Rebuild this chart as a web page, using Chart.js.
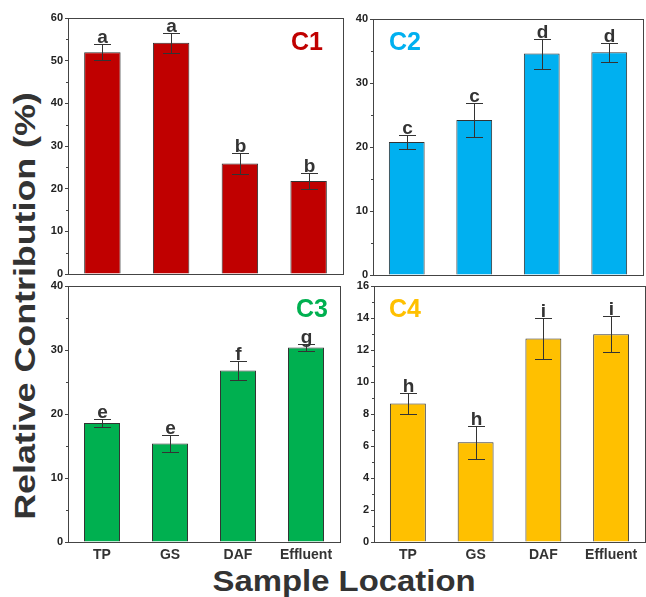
<!DOCTYPE html>
<html>
<head>
<meta charset="utf-8">
<script src="https://cdn.jsdelivr.net/npm/chart.js@4.4.1/dist/chart.umd.min.js"></script>
<style>
  body { margin: 0; background: #fff; }
  #page { position: relative; width: 646px; height: 597px; overflow: hidden; background: #fff; font-family: 'Liberation Sans', Arial, sans-serif; }
  .panel { position: absolute; }
  .axis-title { position: absolute; font-weight: bold; font-size: 30px; color: #333; white-space: nowrap; }
</style>
</head>
<body>
<div id="page">
  <div class="axis-title" id="ytitle">Relative Contribution (%)</div>
  <div class="axis-title" id="xtitle">Sample Location</div>
</div>
<script>
// data
const categories = ['TP', 'GS', 'DAF', 'Effluent'];

const c1Values = [52.0, 54.2, 25.9, 21.8];
const c1Errors = [1.9, 2.3, 2.4, 1.8];
const c1Letters = ['a', 'a', 'b', 'b'];

const c2Values = [20.8, 24.2, 34.6, 34.8];
const c2Errors = [1.1, 2.7, 2.35, 1.5];
const c2Letters = ['c', 'c', 'd', 'd'];

const c3Values = [18.6, 15.4, 26.8, 30.4];
const c3Errors = [0.65, 1.3, 1.5, 0.5];
const c3Letters = ['e', 'e', 'f', 'g'];

const c4Values = [8.66, 6.24, 12.72, 12.99];
const c4Errors = [0.65, 1.04, 1.27, 1.12];
const c4Letters = ['h', 'h', 'i', 'i'];

const FONT = "'Liberation Sans', Arial, sans-serif";
Chart.defaults.font.family = FONT;
Chart.defaults.font.weight = 'bold';

// frame, minor ticks, error bars, letters and panel name
const panelDecor = {
  id: 'panelDecor',
  afterDatasetsDraw(chart, args, opts) {
    const ctx = chart.ctx;
    const y = chart.scales.y;
    const bars = chart.getDatasetMeta(0).data;
    const values = chart.data.datasets[0].data;
    ctx.save();
    ctx.strokeStyle = '#333';
    ctx.lineWidth = 1;
    bars.forEach((bar, i) => {
      const hi = Math.round(y.getPixelForValue(values[i] + opts.errors[i])) + 0.5;
      const lo = Math.round(y.getPixelForValue(values[i] - opts.errors[i])) + 0.5;
      const x = Math.round(bar.x) + 0.5;
      ctx.beginPath();
      ctx.moveTo(x, hi); ctx.lineTo(x, lo);
      ctx.moveTo(x - 8.5, hi); ctx.lineTo(x + 8.5, hi);
      ctx.moveTo(x - 8.5, lo); ctx.lineTo(x + 8.5, lo);
      ctx.stroke();
      ctx.fillStyle = '#333';
      ctx.font = 'bold 19px ' + FONT;
      ctx.textAlign = 'center';
      ctx.textBaseline = 'alphabetic';
      ctx.fillText(opts.letters[i], x, hi - 2);
    });
    ctx.restore();
  },
  afterDraw(chart, args, opts) {
    const ctx = chart.ctx;
    const a = chart.chartArea;
    const y = chart.scales.y;
    ctx.save();
    ctx.strokeStyle = '#444';
    ctx.lineWidth = 1;
    ctx.strokeRect(Math.round(a.left) + 0.5, Math.round(a.top) + 0.5,
      Math.round(a.right - a.left), Math.round(a.bottom - a.top));
    // minor ticks halfway between the major ones
    const ticks = y.ticks;
    ctx.beginPath();
    for (let i = 0; i < ticks.length - 1; i++) {
      const py = Math.round(y.getPixelForValue((ticks[i].value + ticks[i + 1].value) / 2)) + 0.5;
      ctx.moveTo(a.left - 2, py);
      ctx.lineTo(a.left, py);
    }
    ctx.stroke();
    // panel name
    ctx.fillStyle = opts.color;
    ctx.font = 'bold 25px ' + FONT;
    ctx.textBaseline = 'alphabetic';
    if (opts.align === 'right') {
      ctx.textAlign = 'right';
      ctx.fillText(opts.name, a.right + opts.dx, a.top + opts.dy);
    } else {
      ctx.textAlign = 'left';
      ctx.fillText(opts.name, a.left + opts.dx, a.top + opts.dy);
    }
    ctx.restore();
  }
};

function makePanel(rect, values, errors, letters, color, yMax, step, showX, label) {
  const yW = 40, padT = 8, padR = 3;
  const xH = showX ? 24 : 8;
  const div = document.createElement('div');
  div.className = 'panel';
  div.style.left = (rect.l - yW) + 'px';
  div.style.top = (rect.t - padT) + 'px';
  div.style.width = (rect.r - rect.l + yW + padR) + 'px';
  div.style.height = (rect.b - rect.t + padT + xH) + 'px';
  const canvas = document.createElement('canvas');
  div.appendChild(canvas);
  document.getElementById('page').appendChild(div);

  return new Chart(canvas, {
    type: 'bar',
    data: {
      labels: categories,
      datasets: [{
        data: values,
        backgroundColor: color,
        borderColor: '#333',
        borderWidth: 1,
        barPercentage: 0.53,
        categoryPercentage: 1
      }]
    },
    options: {
      responsive: true,
      maintainAspectRatio: false,
      animation: false,
      layout: { padding: { top: padT, right: padR, left: 0, bottom: 0 } },
      plugins: {
        legend: { display: false },
        tooltip: { enabled: false },
        panelDecor: Object.assign({ errors: errors, letters: letters }, label)
      },
      scales: {
        x: {
          grid: { display: false, drawTicks: false },
          border: { display: true, color: '#444' },
          ticks: { display: showX, color: '#333', font: { size: 14, weight: 'bold' }, padding: 5 },
          afterFit: s => { s.height = xH; s.paddingLeft = 0; s.paddingRight = 0; }
        },
        y: {
          min: 0,
          max: yMax,
          ticks: { stepSize: step, color: '#222', font: { size: 11, weight: 'bold' }, padding: 2 },
          grid: { drawOnChartArea: false, tickLength: 3, color: '#444' },
          border: { color: '#444' },
          afterFit: s => { s.width = yW; s.paddingTop = 0; s.paddingBottom = 0; }
        }
      }
    },
    plugins: [panelDecor]
  });
}

makePanel({ l: 68, t: 18, r: 343, b: 274 }, c1Values, c1Errors, c1Letters, '#C00000', 60, 10, false,
  { name: 'C1', color: '#C00000', align: 'right', dx: -20, dy: 32 });
makePanel({ l: 373, t: 19, r: 643, b: 275 }, c2Values, c2Errors, c2Letters, '#00B0F0', 40, 10, false,
  { name: 'C2', color: '#00B0F0', align: 'left', dx: 16, dy: 31 });
makePanel({ l: 68, t: 286, r: 340, b: 542 }, c3Values, c3Errors, c3Letters, '#00B050', 40, 10, true,
  { name: 'C3', color: '#00B050', align: 'right', dx: -12, dy: 31 });
makePanel({ l: 374, t: 286, r: 645, b: 542 }, c4Values, c4Errors, c4Letters, '#FFC000', 16, 2, true,
  { name: 'C4', color: '#FFC000', align: 'left', dx: 15, dy: 31 });

// shared axis titles
const yt = document.getElementById('ytitle');
yt.style.left = (25 - yt.offsetWidth / 2) + 'px';
yt.style.top = (306 - yt.offsetHeight / 2) + 'px';
yt.style.transform = 'rotate(-90deg) scaleX(' + (427 / yt.offsetWidth).toFixed(3) + ')';
const xt = document.getElementById('xtitle');
xt.style.left = (344 - xt.offsetWidth / 2) + 'px';
xt.style.top = (581 - xt.offsetHeight / 2) + 'px';
xt.style.transform = 'scaleX(' + (263 / xt.offsetWidth).toFixed(3) + ')';
</script>
</body>
</html>
